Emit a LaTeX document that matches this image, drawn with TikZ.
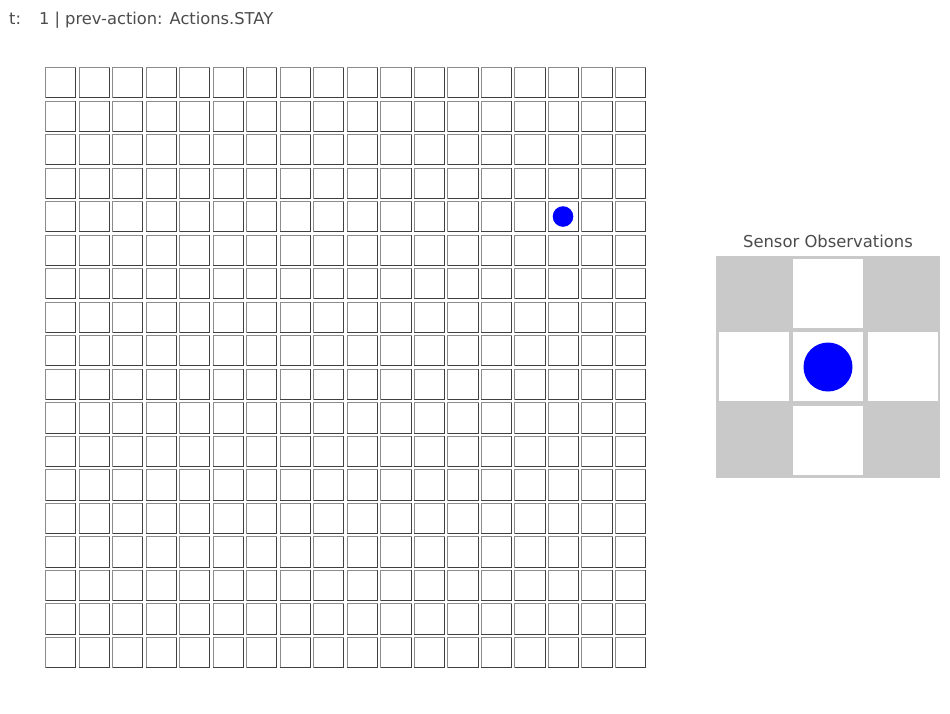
\documentclass[tikz,border=0pt]{standalone}
\usepackage{fontspec}
\setmainfont{DejaVu Sans}
\begin{document}
\begin{tikzpicture}[x=1pt,y=-1pt,
  cellbox/.style={draw=black!45,line width=1pt,fill=white},
  celldark/.style={draw=black!75,line width=1pt},
  sensorcell/.style={fill=white},
  lbl/.style={text=black!70,inner sep=0pt,anchor=base west}]
\useasboundingbox[fill=white] (0,0) rectangle (950,713);
% grid
\foreach \i in {0,...,17}{
  \foreach \j in {0,...,17}{
    \pgfmathsetmacro{\xa}{45.5+\i*33.53}
    \pgfmathsetmacro{\ya}{67.5+\j*33.53}
    \pgfmathsetmacro{\xb}{\xa+30.2}
    \pgfmathsetmacro{\yb}{\ya+30.2}
    \draw[cellbox] (\xa,\ya) rectangle (\xb,\yb);
    \draw[celldark] (\xb,\ya) -- (\xb,\yb) -- (\xa,\yb);
  }
}
% agent
\fill[blue] (563,216.5) circle (10.3);
% texts
\node[lbl,font=\fontsize{16.3}{18}\selectfont] (title) at (9,24) {t:\hspace{1.1em}1 | prev-action: Actions.STAY};
\node[text=black!70,inner sep=0pt,font=\fontsize{16.4}{18}\selectfont] (sensorlabel) at (828,241) {Sensor Observations};
% sensor panel
\fill[black!21] (716,256) rectangle (940,478);
\fill[sensorcell] (793,258.5) rectangle (863,327.5);
\fill[sensorcell] (719,332) rectangle (789,401);
\fill[sensorcell] (793,332) rectangle (863,401);
\fill[sensorcell] (868,332) rectangle (938,401);
\fill[sensorcell] (793,406) rectangle (863,475);
\fill[blue] (828,367) circle (24.5);
\end{tikzpicture}
\end{document}
